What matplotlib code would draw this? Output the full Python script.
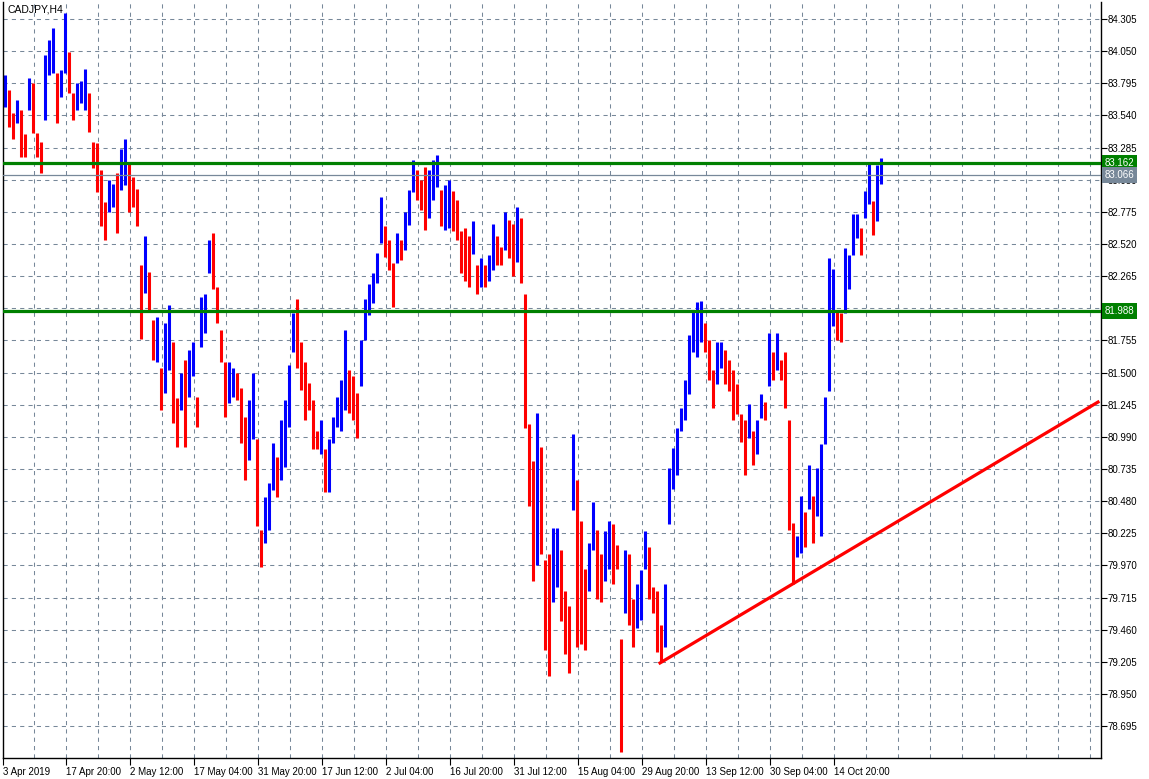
import matplotlib
matplotlib.use('Agg')
import matplotlib.pyplot as plt
import matplotlib.transforms as mtransforms
import numpy as np

# H4 bars of CADJPY (one entry per ~4 source bars)
high = [83.86, 83.74, 83.56, 83.66, 83.58, 83.39, 83.84, 83.80, 83.40, 83.33,
        84.02, 84.14, 84.23, 83.88, 83.90, 84.35, 84.04, 83.72, 83.80, 83.81,
        83.91, 83.72, 83.33, 83.32, 83.11, 82.85, 83.03, 83.00, 83.08, 83.27,
        83.35, 83.16, 83.05, 82.96, 82.35, 82.58, 82.30, 81.92, 81.94, 81.54,
        81.89, 82.04, 81.74, 81.30, 81.50, 81.60, 81.68, 81.74, 81.31, 82.10,
        82.12, 82.55, 82.61, 82.18, 81.84, 81.58, 81.58, 81.54, 81.50, 81.38,
        81.15, 81.28, 81.50, 80.97, 80.25, 80.51, 80.62, 80.94, 80.83, 81.12,
        81.28, 81.56, 81.97, 82.08, 81.74, 81.58, 81.42, 81.28, 81.04, 81.12,
        80.89, 80.97, 81.15, 81.31, 81.44, 81.84, 81.52, 81.47, 81.34, 81.76,
        82.08, 82.20, 82.29, 82.45, 82.89, 82.66, 82.55, 82.37, 82.61, 82.55,
        82.77, 82.95, 83.19, 83.11, 83.03, 83.13, 83.11, 83.19, 83.23, 82.95,
        82.99, 83.03, 82.94, 82.87, 82.62, 82.65, 82.58, 82.70, 82.35, 82.41,
        82.35, 82.43, 82.68, 82.58, 82.50, 82.77, 82.71, 82.68, 82.81, 82.73,
        82.12, 81.09, 80.80, 81.18, 80.91, 80.01, 80.06, 80.27, 80.27, 80.09,
        79.77, 79.65, 81.01, 80.65, 80.32, 79.94, 80.15, 80.47, 80.25, 80.06,
        80.24, 80.32, 80.30, 80.13, 79.39, 80.09, 80.06, 79.70, 79.82, 79.93,
        80.24, 80.12, 79.80, 79.77, 79.50, 79.82, 80.74, 80.90, 81.06, 81.22,
        81.44, 81.80, 82.00, 82.06, 82.07, 81.89, 81.76, 81.52, 81.74, 81.74,
        81.68, 81.60, 81.52, 81.41, 81.17, 81.12, 81.25, 81.04, 81.12, 81.33,
        81.27, 81.81, 81.66, 81.81, 81.60, 81.66, 81.12, 80.31, 80.20, 80.52,
        80.39, 80.77, 80.52, 80.74, 80.93, 81.31, 82.41, 82.32, 82.00, 81.97,
        82.49, 82.43, 82.76, 82.76, 82.65, 82.94, 83.16, 82.86, 83.15, 83.20]
low = [83.61, 83.45, 83.35, 83.48, 83.21, 83.21, 83.58, 83.40, 83.21, 83.08,
       83.50, 83.86, 83.88, 83.48, 83.69, 83.88, 83.72, 83.50, 83.58, 83.64,
       83.58, 83.41, 83.12, 82.93, 82.66, 82.55, 82.77, 82.81, 82.61, 82.95,
       82.99, 82.77, 82.81, 82.66, 81.77, 82.13, 82.00, 81.60, 81.58, 81.20,
       81.34, 81.52, 81.10, 80.91, 81.20, 80.91, 81.31, 81.47, 81.07, 81.70,
       81.81, 82.29, 82.16, 81.89, 81.58, 81.15, 81.26, 81.31, 81.28, 80.94,
       80.65, 80.81, 80.97, 80.28, 79.96, 80.15, 80.25, 80.57, 80.51, 80.65,
       80.75, 81.07, 81.66, 81.54, 81.36, 81.12, 81.20, 80.89, 80.89, 80.85,
       80.55, 80.55, 80.94, 81.07, 81.04, 81.20, 81.18, 81.12, 80.98, 81.39,
       81.76, 81.96, 82.05, 82.21, 82.53, 82.42, 82.31, 82.02, 82.37, 82.39,
       82.47, 82.67, 82.93, 82.87, 82.79, 82.63, 82.73, 82.87, 82.97, 82.66,
       82.63, 82.65, 82.62, 82.55, 82.29, 82.23, 82.18, 82.44, 82.12, 82.18,
       82.18, 82.23, 82.31, 82.35, 82.35, 82.47, 82.41, 82.27, 82.38, 82.21,
       81.06, 80.44, 79.85, 79.97, 80.06, 79.30, 79.09, 79.68, 79.80, 79.53,
       79.27, 79.12, 80.41, 79.32, 79.35, 79.30, 79.77, 80.09, 79.70, 79.68,
       79.85, 79.94, 79.82, 79.94, 78.49, 79.59, 79.50, 79.32, 79.47, 79.54,
       79.94, 79.70, 79.59, 79.28, 79.21, 79.32, 80.30, 80.58, 80.69, 81.04,
       81.12, 81.33, 81.66, 81.62, 81.74, 81.66, 81.44, 81.22, 81.41, 81.54,
       81.41, 81.35, 81.12, 81.17, 80.95, 80.69, 80.98, 80.77, 80.85, 81.14,
       81.12, 81.39, 81.44, 81.52, 81.44, 81.22, 80.25, 79.82, 80.04, 80.07,
       80.12, 80.42, 80.15, 80.36, 80.20, 80.93, 81.35, 81.87, 81.76, 81.74,
       81.97, 82.16, 82.43, 82.57, 82.43, 82.73, 82.84, 82.59, 82.70, 83.00]

price_ticks = ['84.305', '84.050', '83.795', '83.540', '83.285', '83.030',
               '82.775', '82.520', '82.265', '82.010', '81.755', '81.500',
               '81.245', '80.990', '80.735', '80.480', '80.225', '79.970',
               '79.715', '79.460', '79.205', '78.950', '78.695']
date_labels = ['3 Apr 2019', '17 Apr 20:00', '2 May 12:00', '17 May 04:00',
               '31 May 20:00', '17 Jun 12:00', '2 Jul 04:00', '16 Jul 20:00',
               '31 Jul 12:00', '15 Aug 04:00', '29 Aug 20:00', '13 Sep 12:00',
               '30 Sep 04:00', '14 Oct 20:00']

resistance = 83.162
support = 81.988
last_price = 83.066
trend_bars = [163.75, 273.25]
trend_prices = [79.196, 81.266]

hi = np.array(high)
lo = np.array(low)
n = len(hi)
x = np.arange(n)
mid = (hi + lo) / 2
up = np.r_[True, mid[1:] >= mid[:-1]]
colors = np.where(up, '#0000ff', '#ff0000')

plt.rcParams['font.family'] = ['Liberation Sans', 'DejaVu Sans']
fig = plt.figure(figsize=(11.49, 7.79), dpi=100)
ax = fig.add_axes([3 / 1149, 21 / 779, 1098 / 1149, 756 / 779])

ax.set_xlim(-0.5, 274)
ax.set_ylim(78.442, 84.440)

# grid
grid_color = '#778899'
for gx in np.arange(7.25, 274, 8):
    ax.axvline(gx, color=grid_color, lw=0.75, ls=(0, (4, 4)), zorder=0)
for p in price_ticks:
    ax.axhline(float(p), color=grid_color, lw=0.75, ls=(0, (4, 4)), zorder=0)

# bars
ax.vlines(x, lo, hi, colors=colors, lw=2.2, zorder=2)

# levels and trendline
ax.axhline(resistance, color='#008000', lw=2.3, zorder=3)
ax.axhline(support, color='#008000', lw=2.3, zorder=3)
ax.axhline(last_price, color='#778899', lw=0.9, zorder=3)
ax.plot(trend_bars, trend_prices, color='#ff0000', lw=2.3, zorder=3)

# axes styling
ax.spines['top'].set_visible(False)
for side in ['left', 'right', 'bottom']:
    ax.spines[side].set_color('black')
    ax.spines[side].set_linewidth(1)

ax.yaxis.tick_right()
ax.set_yticks([float(p) for p in price_ticks])
ax.set_yticklabels(price_ticks)
ax.tick_params(axis='y', direction='out', length=4, width=0.8, labelsize=7, pad=1)

date_pos = [-0.5] + [15.25 + 16 * k for k in range(len(date_labels) - 1)]
ax.set_xticks(date_pos)
ax.set_xticklabels(date_labels)
for lbl in ax.get_xticklabels():
    lbl.set_ha('left')
ax.tick_params(axis='x', direction='out', length=5, width=0.8, labelsize=7, pad=1.5)

# price tags on right scale (drawn over the tick labels, like the terminal does)
trans = mtransforms.blended_transform_factory(ax.transAxes, ax.transData)
for val, bg in [(resistance, '#008000'), (last_price, '#778899'), (support, '#008000')]:
    ax.text(1.0035, val, '%.3f' % val, transform=trans, color='white', fontsize=7,
            va='center', ha='left', zorder=10, clip_on=False,
            bbox=dict(boxstyle='square,pad=0.28', fc=bg, ec='none'))

ax.text(0.004, 0.997, 'CADJPY,H4', transform=ax.transAxes, fontsize=7.5,
        va='top', ha='left', color='black')

fig.savefig('out.png', dpi=100)
